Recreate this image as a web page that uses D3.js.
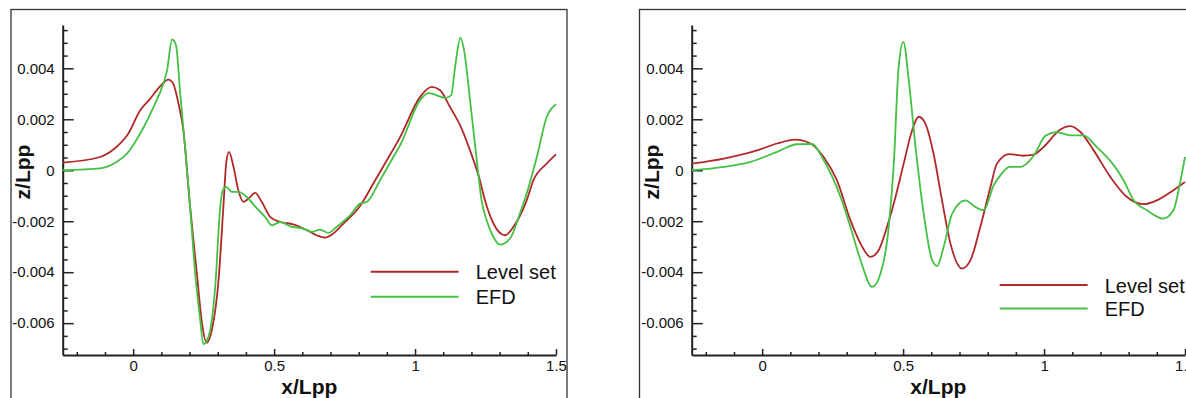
<!DOCTYPE html>
<html>
<head>
<meta charset="utf-8">
<script src="https://cdn.jsdelivr.net/npm/d3@7"></script>
<style>
  html, body { margin: 0; padding: 0; background: #fff; }
  svg { display: block; }
  text { font-family: "Liberation Sans", Arial, sans-serif; fill: #111; }
</style>
</head>
<body>
<svg id="chart" width="1186" height="398"></svg>
<script>
// ---------- data ----------
const seriesNames = ["Level set", "EFD"];
const xMajorTicks = [0, 0.5, 1, 1.5];
const xTickLabels = ["0", "0.5", "1", "1.5"];
const xMinorTicks = [-0.2, -0.1, 0.1, 0.2, 0.3, 0.4, 0.6, 0.7, 0.8, 0.9, 1.1, 1.2, 1.3, 1.4];
const yMajorTicks = [-0.006, -0.004, -0.002, 0, 0.002, 0.004];
const yTickLabels = ["-0.006", "-0.004", "-0.002", "0", "0.002", "0.004"];
const yMinorTicks = [-0.007, -0.0065, -0.0055, -0.005, -0.0045, -0.0035, -0.003, -0.0025, -0.0015, -0.001, -0.0005,
                     0.0005, 0.001, 0.0015, 0.0025, 0.003, 0.0035, 0.0045, 0.005, 0.0055];
const xDomain = [-0.25, 1.5];
const yDomain = [-0.00725, 0.0057];

// left panel, Level set  [x/Lpp, z/Lpp]
const leftLevelSet = [
  [-0.25,0.0003],[-0.117,0.00052],[-0.046,0.00105],[-0.021,0.00137],[0.025,0.00235],[0.060,0.0028],
  [0.096,0.0033],[0.125,0.00356],[0.142,0.0034],[0.161,0.0026],[0.178,0.00157],[0.202,-0.00144],
  [0.226,-0.00405],[0.243,-0.0059],[0.261,-0.00677],[0.279,-0.00627],[0.303,-0.0043],[0.320,-0.00144],
  [0.330,0.00027],[0.340,0.00072],[0.356,0.00013],[0.373,-0.00078],[0.391,-0.00124],[0.409,-0.00111],
  [0.433,-0.00089],[0.456,-0.00124],[0.486,-0.00183],[0.521,-0.00203],[0.568,-0.00212],[0.616,-0.00235],
  [0.651,-0.00255],[0.681,-0.00264],[0.710,-0.00248],[0.746,-0.00209],[0.805,-0.0014],[0.852,-0.00052],
  [0.900,0.00039],[0.947,0.0013],[1.018,0.00288],[1.059,0.00327],[1.089,0.00314],[1.124,0.00248],
  [1.160,0.00176],[1.195,0.00078],[1.230,-0.00039],[1.248,-0.00118],[1.278,-0.00209],[1.319,-0.00255],
  [1.349,-0.00222],[1.396,-0.00118],[1.420,-0.00039],[1.467,0.00026],[1.500,0.00062]
];
// left panel, EFD
const leftEFD = [
  [-0.25,0.0],[-0.117,0.00007],[-0.058,0.00033],[-0.022,0.00065],[0.025,0.00144],[0.072,0.00248],
  [0.107,0.0034],[0.120,0.0039],[0.138,0.00513],[0.152,0.0049],[0.167,0.003],[0.184,0.00092],
  [0.202,-0.00144],[0.220,-0.00405],[0.238,-0.0059],[0.249,-0.00682],[0.267,-0.00654],[0.291,-0.00458],
  [0.309,-0.00144],[0.318,-0.00078],[0.330,-0.00065],[0.350,-0.00085],[0.373,-0.00085],[0.403,-0.00105],
  [0.439,-0.0015],[0.468,-0.00183],[0.492,-0.00216],[0.521,-0.00203],[0.557,-0.0022],[0.604,-0.00229],
  [0.634,-0.00242],[0.663,-0.00233],[0.693,-0.00246],[0.722,-0.00222],[0.770,-0.00176],[0.805,-0.00131],
  [0.829,-0.00124],[0.876,-0.00039],[0.923,0.00052],[0.947,0.00098],[1.018,0.00275],[1.047,0.00303],
  [1.077,0.00294],[1.106,0.00284],[1.128,0.00294],[1.142,0.00405],[1.161,0.0052],[1.174,0.0047],
  [1.195,0.00275],[1.219,0.00039],[1.236,-0.00118],[1.254,-0.00196],[1.278,-0.00262],[1.301,-0.00292],
  [1.337,-0.00268],[1.372,-0.0017],[1.396,-0.00091],[1.432,0.00052],[1.467,0.00209],[1.500,0.00259]
];
// right panel, Level set
const rightLevelSet = [
  [-0.25,0.00026],[-0.136,0.00046],[-0.018,0.00078],[0.053,0.00105],[0.118,0.0012],[0.171,0.00105],
  [0.218,0.00052],[0.265,-0.00039],[0.313,-0.00196],[0.349,-0.00288],[0.384,-0.0034],[0.413,-0.00314],
  [0.443,-0.00222],[0.473,-0.00105],[0.502,0.00026],[0.532,0.00157],[0.555,0.0021],[0.579,0.00183],
  [0.608,0.00065],[0.638,-0.00118],[0.668,-0.00288],[0.709,-0.00386],[0.739,-0.00353],[0.774,-0.00222],
  [0.810,-0.00065],[0.833,0.00026],[0.877,0.00063],[0.925,0.00057],[0.960,0.0006],[0.998,0.00091],
  [1.058,0.0016],[1.093,0.00173],[1.129,0.0015],[1.176,0.00078],[1.235,-0.00026],[1.294,-0.00105],
  [1.353,-0.00133],[1.400,-0.00118],[1.459,-0.00078],[1.500,-0.00046]
];
// right panel, EFD
const rightEFD = [
  [-0.25,0.0],[-0.136,0.00013],[-0.041,0.00033],[0.053,0.00072],[0.124,0.00102],[0.177,0.00103],
  [0.218,0.0004],[0.278,-0.00105],[0.313,-0.00222],[0.349,-0.00353],[0.390,-0.00458],[0.420,-0.00405],
  [0.449,-0.00222],[0.467,0.00026],[0.484,0.00405],[0.501,0.00504],[0.520,0.00353],[0.544,0.00092],
  [0.573,-0.0017],[0.603,-0.00353],[0.621,-0.00376],[0.644,-0.003],[0.674,-0.0017],[0.721,-0.00118],
  [0.756,-0.00144],[0.786,-0.00157],[0.821,-0.0006],[0.845,-0.0002],[0.878,0.00013],[0.916,0.00013],
  [0.962,0.00055],[1.005,0.00135],[1.044,0.0015],[1.093,0.00137],[1.140,0.00137],[1.187,0.00091],
  [1.247,0.0002],[1.282,-0.00039],[1.318,-0.00118],[1.365,-0.00157],[1.422,-0.0019],[1.459,-0.00157],
  [1.482,-0.00052],[1.500,0.00052]
];

const colors = ["#b02828", "#44c044"];

// ---------- drawing ----------
const svg = d3.select("#chart");

function panel(cfg) {
  const g = svg.append("g");
  // frame
  g.append("rect")
    .attr("x", cfg.frameX).attr("y", 9.5)
    .attr("width", cfg.frameW).attr("height", 420)
    .attr("fill", "none").attr("stroke", "#333").attr("stroke-width", 1.3);

  const x = d3.scaleLinear().domain(xDomain).range([cfg.x0, cfg.x1]);
  const y = d3.scaleLinear().domain(yDomain).range([355, 25]);

  // minor ticks
  g.append("g").attr("transform", "translate(0,355)")
    .call(d3.axisBottom(x).tickValues(xMinorTicks).tickSize(-3).tickSizeOuter(0).tickFormat(""))
    .call(a => a.select(".domain").remove());
  g.append("g").attr("transform", `translate(${cfg.x0},0)`)
    .call(d3.axisLeft(y).tickValues(yMinorTicks).tickSize(-5).tickSizeOuter(0).tickFormat(""))
    .call(a => a.select(".domain").remove());

  // major axes
  const xa = g.append("g").attr("transform", "translate(0,355)")
    .call(d3.axisBottom(x).tickValues(xMajorTicks).tickSize(-6).tickSizeOuter(0).tickPadding(5)
      .tickFormat((d, i) => xTickLabels[i]));
  const ya = g.append("g").attr("transform", `translate(${cfg.x0},0)`)
    .call(d3.axisLeft(y).tickValues(yMajorTicks).tickSize(-11).tickSizeOuter(0).tickPadding(8)
      .tickFormat((d, i) => yTickLabels[i]));
  [xa, ya].forEach(a => {
    a.select(".domain").attr("stroke", "#222").attr("stroke-width", 2);
    a.selectAll(".tick line").attr("stroke", "#222").attr("stroke-width", 1.5);
    a.selectAll(".tick text").attr("font-size", 15).attr("fill", "#111")
      .attr("font-family", '"Liberation Sans", Arial, sans-serif');
  });
  g.selectAll(".tick line").attr("stroke", "#222").attr("stroke-width", 1.5);

  // curves
  const line = d3.line().x(d => x(d[0])).y(d => y(d[1])).curve(d3.curveMonotoneX);
  cfg.series.forEach((s, i) => {
    g.append("path").datum(s)
      .attr("d", line).attr("fill", "none")
      .attr("stroke", colors[i]).attr("stroke-width", 1.8)
      .attr("stroke-linejoin", "round");
  });

  // axis titles
  g.append("text").attr("x", (cfg.x0 + cfg.x1) / 2).attr("y", 394)
    .attr("text-anchor", "middle").attr("font-size", 21).attr("font-weight", "bold")
    .text("x/Lpp");
  g.append("text")
    .attr("transform", `translate(${cfg.frameX + 19},172) rotate(-90)`)
    .attr("text-anchor", "middle").attr("font-size", 21).attr("font-weight", "bold")
    .text("z/Lpp");

  // legend
  seriesNames.forEach((n, i) => {
    const ly = cfg.legendY + i * cfg.legendGap;
    g.append("line").attr("x1", cfg.x0 + 308).attr("x2", cfg.x0 + 396)
      .attr("y1", ly).attr("y2", ly)
      .attr("stroke", colors[i]).attr("stroke-width", 2);
    g.append("text").attr("x", cfg.x0 + 413).attr("y", ly + 7.5)
      .attr("font-size", 20).text(n);
  });
}

panel({ frameX: 11, frameW: 556, x0: 62.7, x1: 556, series: [leftLevelSet, leftEFD], legendY: 271.7, legendGap: 25 });
panel({ frameX: 639.5, frameW: 600, x0: 691.7, x1: 1185, series: [rightLevelSet, rightEFD], legendY: 285, legendGap: 23.5 });
</script>
</body>
</html>
